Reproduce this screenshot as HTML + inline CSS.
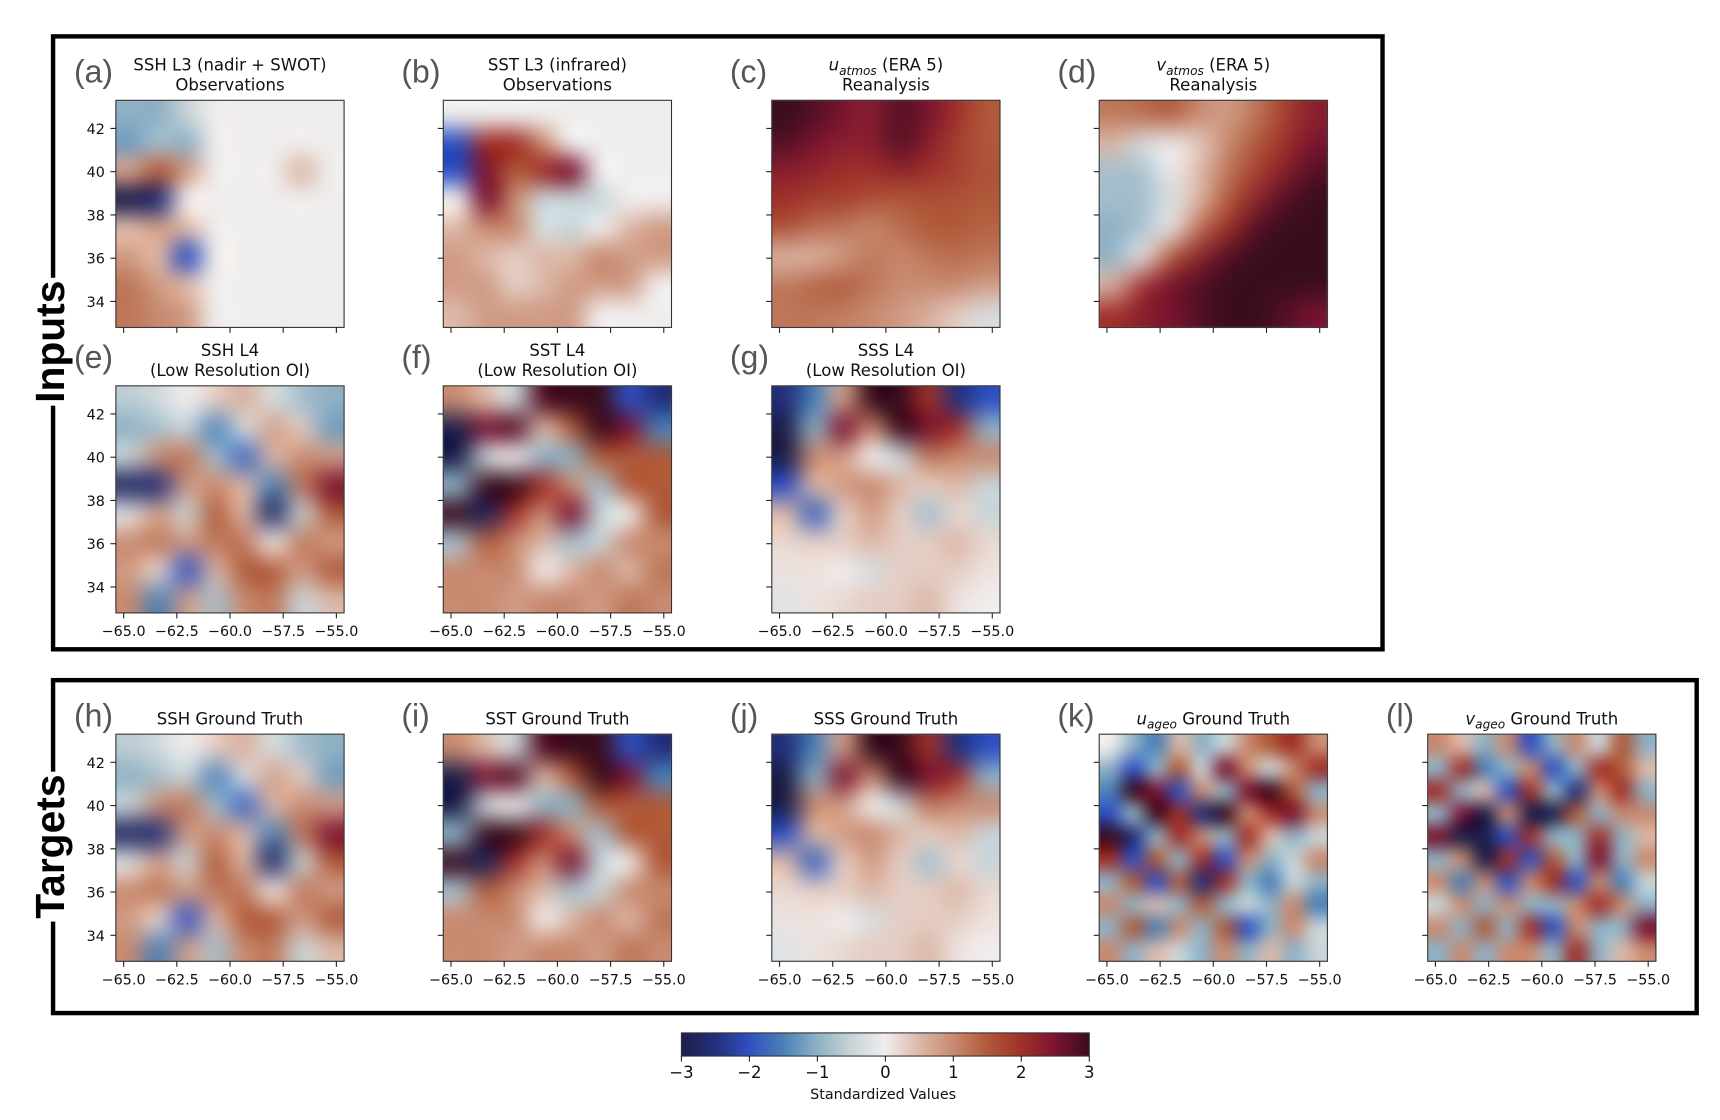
<!DOCTYPE html>
<html><head><meta charset="utf-8">
<style>
html,body{margin:0;padding:0;background:#fff;}
#wrap{position:relative;width:1720px;height:1120px;}
#heat,#fig{position:absolute;left:0;top:0;display:block;}
text{font-family:"DejaVu Sans","Liberation Sans",sans-serif;fill:#111;}
.lt{font-family:"Liberation Sans",sans-serif;fill:#555;}
</style></head>
<body>
<div id="wrap">
<canvas id="heat" width="1720" height="1120"></canvas>
<svg id="fig" width="1720" height="1120" viewBox="0 0 1560 1016" xmlns="http://www.w3.org/2000/svg">
<defs>
<linearGradient id="cbgrad" x1="0" x2="1" y1="0" y2="0">
<stop offset="0" stop-color="#1d1f4a"/><stop offset="0.083" stop-color="#232f7a"/>
<stop offset="0.167" stop-color="#3050c0"/><stop offset="0.25" stop-color="#4a80b8"/>
<stop offset="0.333" stop-color="#8fb0c4"/><stop offset="0.417" stop-color="#c8d4d8"/>
<stop offset="0.5" stop-color="#f0eded"/><stop offset="0.583" stop-color="#dcb8a8"/>
<stop offset="0.667" stop-color="#c88a70"/><stop offset="0.75" stop-color="#b05a3a"/>
<stop offset="0.833" stop-color="#a0302a"/><stop offset="0.917" stop-color="#7a1430"/>
<stop offset="1" stop-color="#3a0d1e"/>
</linearGradient>
</defs>
<rect x="48" y="33" width="1206" height="556" fill="none" stroke="#000" stroke-width="4"/>
<rect x="48" y="617" width="1491" height="302" fill="none" stroke="#000" stroke-width="4"/>
<g id="panels"></g>
<rect x="28" y="252" width="36" height="116" fill="#fff"/>
<text transform="translate(58,310) rotate(-90)" text-anchor="middle" font-size="37" font-weight="bold" style="font-family:'Liberation Sans',sans-serif;fill:#000">Inputs</text>
<rect x="28" y="700" width="36" height="136" fill="#fff"/>
<text transform="translate(58,768) rotate(-90)" text-anchor="middle" font-size="37" font-weight="bold" style="font-family:'Liberation Sans',sans-serif;fill:#000">Targets</text>
<g id="colorbar">
<rect x="618" y="937" width="370" height="21" fill="url(#cbgrad)" stroke="#333" stroke-width="1"/>
</g>
<text x="801" y="997" text-anchor="middle" font-size="13">Standardized Values</text>
</svg>
</div>
<script>
var NS="http://www.w3.org/2000/svg";
var cbTicks=[-3,-2,-1,0,1,2,3];
var cbLabels=["\u22123","\u22122","\u22121","0","1","2","3"];
var latTicks=[34,36,38,40,42];
var lonTicks=[-65,-62.5,-60,-57.5,-55];
var lonLabels=["\u221265.0","\u221262.5","\u221260.0","\u221257.5","\u221255.0"];

var gridA=[[-1,-1,-0.5,0,0,0,0,0],[-1.2,-0.8,-1,0,0,0,0,0],[0.8,1.5,0.8,0,0,0,0.5,0],[-3,-2.5,0,0,0,0,0,0],[0.5,0.8,0.5,0,0,0,0,0],[0.8,0.5,-2,0,0,0,0,0],[1.2,0.8,0.5,0,0,0,0,0],[1.2,1,0.8,0,0,0,0,0]];
var gridB=[[0,0,0,0,0,0,0,0],[-2,2,2,1,0,0,0,0],[-2,2.5,1.5,2,2.5,0,0,0],[0,2.5,1,-0.5,-0.5,-0.5,0,0],[0.5,1,1,-0.3,-0.5,0,0.5,0.8],[0.8,0.5,0.3,0.5,0.5,1,0.8,0.8],[0.8,0.8,0.3,0.5,0.8,0.8,0.8,0],[0.5,0.8,0.8,0.8,0.8,0,0,0]];
var gridC=[[3,2.8,2.5,2.3,2.8,2.5,2,1.5],[2.8,2.5,2.3,2.3,2.8,2.3,1.8,1.5],[2.3,2.2,2,2,2.2,2,1.8,1.6],[2,1.8,1.8,1.6,1.5,1.6,1.6,1.5],[1.6,1.3,1.2,1,1.3,1.5,1.5,1.4],[0.5,0.5,0.8,1.2,1,1.2,1.3,1.2],[1.2,1.4,1.5,1.2,1,1,1,0.8],[1.2,1.2,1.1,1,0.8,0.6,0.3,-0.3]];
var gridD=[[1.2,1.3,1.5,1,0.8,1.2,1.8,2.3],[0.5,-0.3,0,0.3,1,1.5,2,2.5],[-0.8,-0.8,0,0.5,1.2,1.8,2.3,2.8],[-0.8,-0.8,-0.3,0.5,1.5,2.2,2.8,3],[-1,-0.8,0,1.3,2,2.8,3,3],[-1,0,1.5,2.2,2.8,3,3,3],[0.5,2,2.5,2.8,3,3,3,3],[2,2.3,2.5,2.8,3,3,2.8,2.5]];
var gridSSH=[[-0.6,-0.4,0,0.3,0.6,-0.3,-0.8,-1],[-1,-0.8,-0.5,-1.5,-0.3,0.8,0.3,-1.2],[-0.5,1,1.2,-0.8,-1.8,0.5,1,0.8],[-2.8,-2.5,0.8,1,0.5,-1.5,1.2,2.5],[-0.2,0.8,-0.5,1.5,0.5,-2.8,-0.5,1.5],[1,1.2,0.8,1.2,1.2,0,1.2,0.8],[0.8,0.2,-2,0.5,1.5,1.5,0.8,1.5],[1,-1.5,0.8,-0.8,1,1.2,-0.5,0.5]];
var gridSST=[[1,0.5,-0.5,2.8,3,3,-2,-2.5],[-3,2.5,2.8,0.5,1.5,3,2.5,-1.5],[-3,-0.5,0,-1,-1,1.5,1.5,1.5],[-1,3,3,2,1,-0.8,1.5,1.5],[3,-2.8,2,1,2.5,-0.5,0,1.5],[-0.8,1.5,1,0.5,-0.8,-0.5,1,1],[1,1,1,0,0.5,1,0.5,1.2],[1,1,0.8,1,1,0.8,1.2,1]];
var gridSSS=[[-2.5,-1.5,0.8,3,3,2,-2.5,-2],[-3,-1,2.5,1,3,2.5,2,-1],[-3,1,0.8,0,-0.5,1.2,1,1],[-2,0.5,0.8,1,0.5,0.3,0.5,-0.5],[0.5,-1.8,0.3,0.8,0.3,-0.8,0.2,-0.5],[0.2,0.3,0.3,0.5,0.3,0.3,0.5,0.2],[0.1,0.1,0,-0.3,0.3,0.3,0.3,0.1],[-0.2,0.1,0.2,0.3,0.3,0.5,0.1,0]];
var gridU=[[0,-1,-1.5,0.5,-1,-0.5,1,1.5,2,1],[-1,-2,-1,1.5,-0.5,2.5,1,-0.5,1,2],[-1.5,3,2.5,-2,1,-1,2.5,3,1.5,-1],[-2,-1,3,2,-2.5,3,1,2,2.5,1],[3,-2.5,-1,2,1,-1,2,0.5,-1,-0.5],[2,-2,1.5,-1,2,-2,1,-1,-0.5,1],[-1,1.5,-2,1.5,-2.5,2,-1,-1.5,-0.5,-1],[1,-1,0.5,-1,1.5,-1,-0.5,-1,1,-1.5],[-1,1.5,-1.5,1,-1,1.5,-2,-1,1,-0.5],[1,-1,0.5,-0.5,-1,1,-1,0.5,-1,-0.5]];
var gridV=[[1,0.5,-1,1,-2,-1,1,-0.5,1.5,-1],[-1,2,-1.5,-1,1,-2,-1,2,1.5,0.5],[2,-1,0.5,-2,2,-1,-2.5,1,2,-1],[-1,2.5,-3,1,-3,-3,1.5,-1,1,1],[2.5,-3,-3,-2,2,-1,-1,2,-1,0.5],[-1,1,-3,2,-2,1.5,-1,2.5,-1,1],[1,-1.5,1,-2,1,2,-2,1,-1.5,-0.5],[-0.5,1,-1,1,-1,-1,1,2,1,-1],[1,-1,1.5,-1,2,-2,1,-1,-1,2.5],[-1,1,-1,1,1,-1,2,-1,0.5,1]];

var stops=[[-3,[29,31,74]],[-2.5,[35,47,122]],[-2,[48,80,192]],[-1.5,[74,128,184]],[-1,[143,176,196]],[-0.5,[200,212,216]],[0,[240,237,237]],[0.5,[220,184,168]],[1,[200,138,112]],[1.5,[176,90,58]],[2,[160,48,42]],[2.5,[122,20,48]],[3,[58,13,30]]];
function cmapArr(v){v=Math.max(-3,Math.min(3,v));for(var i=0;i<stops.length-1;i++){var a=stops[i],b=stops[i+1];if(v<=b[0]){var t=(v-a[0])/(b[0]-a[0]);return a[1].map(function(x,k){return Math.round(x+(b[1][k]-x)*t);});}}return [58,13,30];}

var W=207,H=206,K=1720/1560;
function xs(left,lon){return left+7+(lon+65)/10*193;}
function ys(top,lat){return top+(43.3-lat)/10.5*206;}
function mk(tag,attrs,parent){var e=document.createElementNS(NS,tag);for(var k in attrs)e.setAttribute(k,attrs[k]);parent.appendChild(e);return e;}

var cols=[105,402,700,997,1295];
var rows=[91,350,666];
var panels=[
{id:"a",c:0,r:0,g:gridA,blur:3,t1:"SSH L3 (nadir + SWOT)",t2:"Observations"},
{id:"b",c:1,r:0,g:gridB,blur:4,t1:"SST L3 (infrared)",t2:"Observations"},
{id:"c",c:2,r:0,g:gridC,blur:8,t1:"ATM:u",t2:"Reanalysis"},
{id:"d",c:3,r:0,g:gridD,blur:8,t1:"ATM:v",t2:"Reanalysis"},
{id:"e",c:0,r:1,g:gridSSH,blur:6,t1:"SSH L4",t2:"(Low Resolution OI)"},
{id:"f",c:1,r:1,g:gridSST,blur:5,t1:"SST L4",t2:"(Low Resolution OI)"},
{id:"g",c:2,r:1,g:gridSSS,blur:5,t1:"SSS L4",t2:"(Low Resolution OI)"},
{id:"h",c:0,r:2,g:gridSSH,blur:6,t1:"SSH Ground Truth"},
{id:"i",c:1,r:2,g:gridSST,blur:5,t1:"SST Ground Truth"},
{id:"j",c:2,r:2,g:gridSSS,blur:5,t1:"SSS Ground Truth"},
{id:"k",c:3,r:2,g:gridU,blur:2,t1:"AG:u"},
{id:"l",c:4,r:2,g:gridV,blur:2,t1:"AG:v"}
];
var ctx=document.getElementById("heat").getContext("2d");
function drawHeat(p,L,T){
  var n=p.g.length,m=p.g[0].length;
  var tmp=document.createElement("canvas");tmp.width=m+2;tmp.height=n+2;
  var tc=tmp.getContext("2d");var img=tc.createImageData(m+2,n+2);
  for(var i=-1;i<=n;i++)for(var j=-1;j<=m;j++){
    var ii=Math.max(0,Math.min(n-1,i)),jj=Math.max(0,Math.min(m-1,j));
    var c=cmapArr(p.g[ii][jj]);var o=((i+1)*(m+2)+(j+1))*4;
    img.data[o]=c[0];img.data[o+1]=c[1];img.data[o+2]=c[2];img.data[o+3]=255;
  }
  tc.putImageData(img,0,0);
  var cw=W/m,ch=H/n;
  ctx.save();
  ctx.beginPath();ctx.rect(L*K,T*K,W*K,H*K);ctx.clip();
  ctx.imageSmoothingEnabled=true;ctx.imageSmoothingQuality="high";
  ctx.filter="blur("+(p.blur*K)+"px)";
  ctx.drawImage(tmp,(L-cw)*K,(T-ch)*K,(W+2*cw)*K,(H+2*ch)*K);
  ctx.restore();
}
var root=document.getElementById("panels");
panels.forEach(function(p){
  var L=cols[p.c],T=rows[p.r];
  drawHeat(p,L,T);
  var g=mk("g",{},root);
  
  
  mk("rect",{x:L,y:T,width:W,height:H,fill:"none",stroke:"#333","stroke-width":1},g);
  lonTicks.forEach(function(lon,k){
    var x=xs(L,lon);
    mk("line",{x1:x,x2:x,y1:T+H,y2:T+H+5,stroke:"#222","stroke-width":1},g);
    if(p.r>0){var t=mk("text",{x:x,y:T+H+21,"text-anchor":"middle","font-size":13},g);t.textContent=lonLabels[k];
      }
  });
  latTicks.forEach(function(lat){
    var y=ys(T,lat);
    mk("line",{x1:L-5,x2:L,y1:y,y2:y,stroke:"#222","stroke-width":1},g);
    if(p.c==0){var t=mk("text",{x:L-10,y:y+5,"text-anchor":"end","font-size":13},g);t.textContent=lat;
      }
  });
  var cx=L+W/2;
  var lab=mk("text",{x:L-38,y:(p.r==2?T-7:T-16),"text-anchor":"start","font-size":29,"class":"lt"},g);
  lab.textContent="("+p.id+")";
  
  var y1=p.t2?T-27:T-9;
  var t1=mk("text",{x:cx,y:y1,"text-anchor":"middle","font-size":15},g);
  
  if(p.t1.indexOf(":")>0){
    var kind=p.t1.split(":")[0],v=p.t1.split(":")[1];
    var a=mk("tspan",{"font-style":"italic"},t1);a.textContent=v;
    var s=mk("tspan",{"font-style":"italic","font-size":11,dy:4},t1);s.textContent=(kind=="ATM"?"atmos":"ageo");
    var r2=mk("tspan",{dy:-4},t1);r2.textContent=(kind=="ATM"?" (ERA 5)":" Ground Truth");
  } else t1.textContent=p.t1;
  if(p.t2){var t2=mk("text",{x:cx,y:T-9,"text-anchor":"middle","font-size":15},g);t2.textContent=p.t2;
    }
});
var cb=document.getElementById("colorbar");
cbTicks.forEach(function(v,k){
  var x=618+(v+3)/6*370;
  mk("line",{x1:x,x2:x,y1:958,y2:963,stroke:"#222"},cb);
  var t=mk("text",{x:x,y:978,"text-anchor":"middle","font-size":15},cb);t.textContent=cbLabels[k];
  
});
</script>
</body></html>
